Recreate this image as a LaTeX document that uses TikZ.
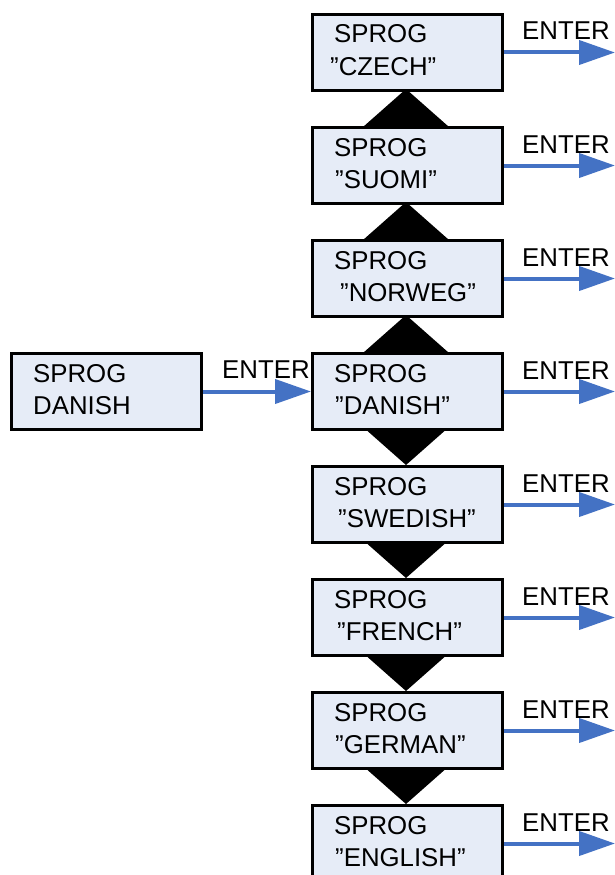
\documentclass[tikz,border=0pt]{standalone}
\usepackage{fontspec}
\setmainfont{Liberation Sans}
\usetikzlibrary{arrows.meta}
\definecolor{boxfill}{RGB}{230,236,247}
\definecolor{arrblue}{RGB}{68,114,196}
\begin{document}
\begin{tikzpicture}[x=1pt,y=-1pt,
 box/.style={draw=black, line width=3pt, fill=boxfill, minimum width=190pt, minimum height=76pt, inner sep=0pt, anchor=north west},
 txt/.style={anchor=base west, inner sep=0pt, font=\fontsize{25.8}{30}\selectfont},
 arr/.style={draw=arrblue, line width=4pt, -{Triangle[length=36pt,width=24pt]}},
 tri/.style={fill=black}]
\useasboundingbox (0,0) rectangle (614,875);
% triangles (behind boxes)
\coordinate (tczech) at (406,89);
\coordinate (tsuomi) at (406,202);
\coordinate (tnorweg) at (406,315);
\coordinate (tswedish) at (406,465);
\coordinate (tfrench) at (406,578);
\coordinate (tgerman) at (406,691);
\coordinate (tenglish) at (406,804);
\foreach \a in {tczech,tsuomi,tnorweg}
  \fill[tri] (\a) -- ++(-60,53) -- ++(120,0) -- cycle;
\foreach \a in {tswedish,tfrench,tgerman,tenglish}
  \fill[tri] (\a) -- ++(-60,-53) -- ++(120,0) -- cycle;
% boxes
\foreach \n/\t/\lx/\lab in {czech/13/330/CZECH, suomi/126/335/SUOMI, norweg/239/340/NORWEG, danish/352/335/DANISH, swedish/465/338/SWEDISH, french/578/337/FRENCH, german/691/335/GERMAN, english/804/335/ENGLISH}{
  \node[box] (\n) at (311,\t) {};
  \node[txt] (\n-l1) at (334,\t+30) {SPROG};
  \node[txt] (\n-l2) at (\lx,\t+62) {”\lab”};
  \draw[arr] (\n.east) -- ++(111,0);
  \node[txt] (\n-enter) at (522,\t+27) {ENTER};
}
% left box
\node[box] (left) at (10,352) {};
\node[txt] (left-l1) at (33,382) {SPROG};
\node[txt] (left-l2) at (33,414) {DANISH};
\draw[arr] (left.east) -- (danish.west);
\node[txt] (left-enter) at (222,378) {ENTER};
\end{tikzpicture}
\end{document}
